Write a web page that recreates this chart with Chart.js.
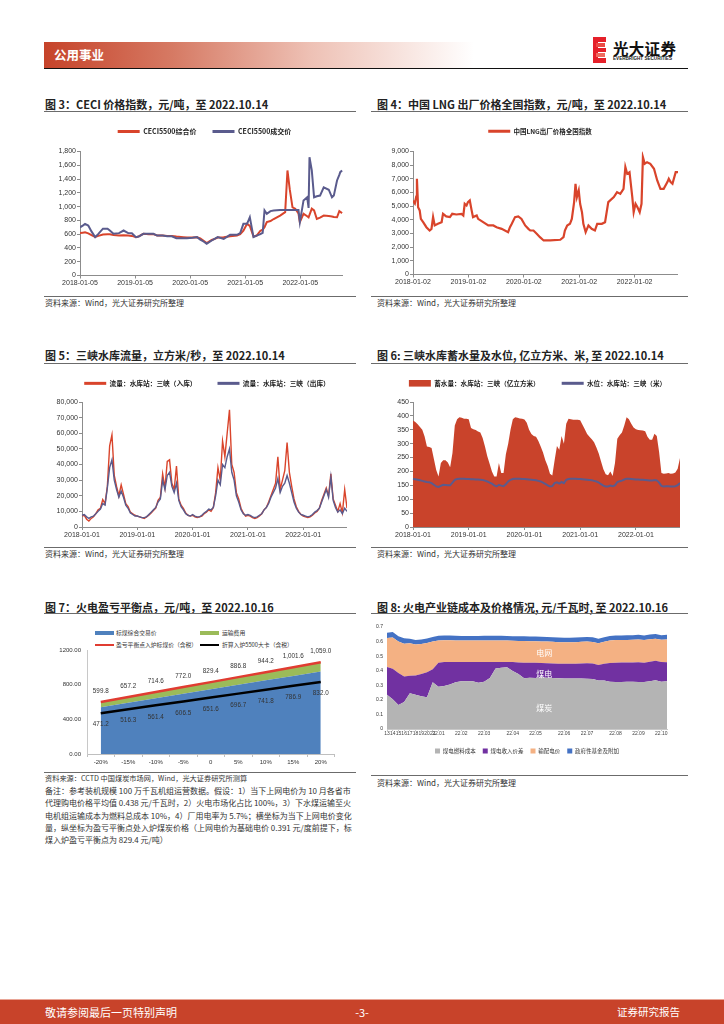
<!DOCTYPE html>
<html lang="zh-CN">
<head>
<meta charset="utf-8">
<title>公用事业</title>
<script src="https://cdn.jsdelivr.net/npm/chart.js@4.4.1/dist/chart.umd.min.js"></script>
<style>
  html, body { margin:0; padding:0; background:#fff; }
  body { position:relative; width:724px; height:1024px; overflow:hidden; font-family:"Noto Sans CJK SC", sans-serif; color:#222; }
  .t { position:absolute; font-size:11px; font-weight:bold; line-height:14px; white-space:nowrap; color:#222; }
  .rule { position:absolute; height:1px; background:#6b6b6b; }
  .src { position:absolute; font-size:8px; line-height:10px; white-space:nowrap; color:#333; }
  .note { position:absolute; left:45px; width:303px; font-size:8px; line-height:10px; white-space:nowrap; color:#333; text-align:justify; text-align-last:justify; }
  canvas { position:absolute; }
  .lg { position:absolute; font-size:5.8px; line-height:8px; white-space:nowrap; color:#333; }
  .sw { position:absolute; }
</style>
</head>
<body>
<!-- header -->
<div style="position:absolute;left:44px;top:42px;width:430px;height:26px;background:linear-gradient(90deg,#c6432a 0%,#d67a64 30%,#eec1b5 62%,#ffffff 100%);"></div>
<div style="position:absolute;left:54px;top:46.5px;font-size:12.5px;line-height:16px;color:#fff;font-weight:bold;">公用事业</div>
<div style="position:absolute;left:44px;top:67.5px;width:644px;height:1.5px;background:#111;"></div>
<div style="position:absolute;left:593px;top:37px;width:5px;height:26px;background:#e5202a;"></div>
<div style="position:absolute;left:593px;top:37px;width:13px;height:5px;background:#e5202a;"></div>
<div style="position:absolute;left:596px;top:43px;width:9px;height:4px;background:#ec4a45;"></div>
<div style="position:absolute;left:593px;top:48px;width:13px;height:4px;background:#e5202a;"></div>
<div style="position:absolute;left:596px;top:53px;width:9px;height:4px;background:#f06a5f;"></div>
<div style="position:absolute;left:593px;top:58px;width:13px;height:5px;background:#e5202a;"></div>
<div style="position:absolute;left:613px;top:39px;font-size:15.5px;line-height:18px;font-weight:bold;color:#111;letter-spacing:0.3px;">光大证券</div>
<div style="position:absolute;left:613px;top:56px;font-size:4.6px;line-height:6px;font-weight:bold;color:#222;font-family:'Liberation Sans',sans-serif;">EVERBRIGHT SECURITIES</div>

<!-- titles -->
<div class="t" style="left:45px;top:97.3px">图 3：CECI 价格指数，元/吨，至 2022.10.14</div>
<div class="t" style="left:377px;top:97.3px">图 4：中国 LNG 出厂价格全国指数，元/吨，至 2022.10.14</div>
<div class="t" style="left:45px;top:348px">图 5：三峡水库流量，立方米/秒，至 2022.10.14</div>
<div class="t" style="left:377px;top:348px">图 6: 三峡水库蓄水量及水位, 亿立方米、米, 至 2022.10.14</div>
<div class="t" style="left:45px;top:600px">图 7：火电盈亏平衡点，元/吨，至 2022.10.16</div>
<div class="t" style="left:377px;top:600px">图 8: 火电产业链成本及价格情况, 元/千瓦时, 至 2022.10.16</div>

<div class="rule" style="left:44px;top:110.5px;width:312px"></div>
<div class="rule" style="left:371px;top:110.5px;width:317px"></div>
<div class="rule" style="left:44px;top:362.5px;width:312px"></div>
<div class="rule" style="left:371px;top:362.5px;width:317px"></div>
<div class="rule" style="left:44px;top:613px;width:312px"></div>
<div class="rule" style="left:371px;top:613px;width:317px"></div>

<div class="rule" style="left:44px;top:295.5px;width:312px"></div>
<div class="rule" style="left:371px;top:295.5px;width:317px"></div>
<div class="rule" style="left:44px;top:546.5px;width:312px"></div>
<div class="rule" style="left:371px;top:546.5px;width:317px"></div>
<div class="rule" style="left:44px;top:772px;width:312px"></div>
<div class="rule" style="left:371px;top:775px;width:317px"></div>

<div class="src" style="left:45px;top:298.3px">资料来源：Wind，光大证券研究所整理</div>
<div class="src" style="left:377px;top:298.3px">资料来源：Wind，光大证券研究所整理</div>
<div class="src" style="left:45px;top:549px">资料来源：Wind，光大证券研究所整理</div>
<div class="src" style="left:377px;top:549px">资料来源：Wind，光大证券研究所整理</div>
<div class="src" style="left:377px;top:778px">资料来源：Wind，光大证券研究所整理</div>

<div class="src" style="left:45px;top:773.3px;font-size:7.2px">资料来源：CCTD 中国煤炭市场网，Wind，光大证券研究所测算</div>
<div class="note" style="top:785.7px">备注：参考装机规模 100 万千瓦机组运营数据。假设：1）当下上网电价为 10 月各省市</div>
<div class="note" style="top:798.3px">代理购电价格平均值 0.438 元/千瓦时，2）火电市场化占比 100%，3）下水煤运输至火</div>
<div class="note" style="top:810.7px">电机组运输成本为燃料总成本 10%，4）厂用电率为 5.7%；横坐标为当下上网电价变化</div>
<div class="note" style="top:822.7px">量，纵坐标为盈亏平衡点处入炉煤炭价格（上网电价为基础电价 0.391 元/度前提下，标</div>
<div class="note" style="top:835px;text-align-last:left">煤入炉盈亏平衡点为 829.4 元/吨）</div>

<!-- chart 7 legend -->
<div class="sw" style="left:95px;top:631.3px;width:19px;height:4px;background:#4f81bd"></div>
<div class="lg" id="lg7a" style="left:116px;top:629.3px"></div>
<div class="sw" style="left:200px;top:631.3px;width:19px;height:4px;background:#9bbb59"></div>
<div class="lg" id="lg7b" style="left:222px;top:629.3px"></div>
<div class="sw" style="left:95px;top:644px;width:19px;height:2px;background:#e03c31"></div>
<div class="lg" id="lg7c" style="left:116px;top:641px"></div>
<div class="sw" style="left:200px;top:644px;width:19px;height:2px;background:#000"></div>
<div class="lg" id="lg7d" style="left:222px;top:641px"></div>

<!-- canvases -->
<canvas id="c3" width="299" height="183" style="left:44px;top:111.5px"></canvas>
<canvas id="c4" width="308" height="183" style="left:370px;top:111.5px"></canvas>
<canvas id="c5" width="303" height="187" style="left:44px;top:359px"></canvas>
<canvas id="c6" width="310" height="188" style="left:370px;top:358px"></canvas>
<canvas id="c7" width="312" height="128" style="left:44px;top:640px"></canvas>
<canvas id="c8" width="318" height="140" style="left:370px;top:618px"></canvas>

<!-- footer -->
<div style="position:absolute;left:0;top:999px;width:724px;height:1px;background:#e9a596;"></div>
<div style="position:absolute;left:0;top:1000px;width:724px;height:24px;background:#c8432a;"></div>
<div style="position:absolute;left:45px;top:1005px;font-size:11px;line-height:14px;color:#fff;">敬请参阅最后一页特别声明</div>
<div style="position:absolute;left:352px;top:1005px;width:20px;text-align:center;font-size:11px;line-height:14px;color:#fff;">-3-</div>
<div style="position:absolute;left:617px;top:1005px;font-size:10.5px;line-height:14px;color:#fff;">证券研究报告</div>

<script>
// ---------------- DATA ----------------
// Fig 3: CECI (months since 2018-01-05)
const ceciSeries = ['CECI5500综合价', 'CECI5500成交价'];
const ceciTickMonths = [0, 12, 24, 36, 48];
const ceciTickLabels = ['2018-01-05', '2019-01-05', '2020-01-05', '2021-01-05', '2022-01-05'];
const ceciMonth = [0,0.6,1.1,1.8,2.5,3.3,4,5,6,6.5,7.3,8.5,9.5,10.5,11.3,12.2,12.8,13.8,15,16,16.8,18,19,20,21,22.5,23.3,24.5,25.5,26.2,27,27.6,28.7,29.5,30,31.3,32.7,34.2,34.9,35.6,36.4,37,37.8,38.5,39.3,39.8,40.2,40.7,41.5,42.2,43.6,44.7,45.2,45.7,46.3,46.9,47.6,47.9,48.7,49.5,49.8,50,50.5,51,51.6,52.3,53.1,54.2,54.9,55.3,56,56.5,56.7,57.1];
const ceciComposite = [615,622,628,612,585,560,575,595,600,598,588,580,585,582,575,557,568,605,600,600,580,580,575,575,565,555,550,550,555,540,500,470,515,535,550,555,570,580,600,650,750,720,566,580,650,665,700,775,790,820,870,920,1525,1250,990,970,900,775,895,860,845,880,970,945,820,840,870,862,857,850,845,935,925,905];
const ceciTrade = [700,725,750,726,640,557,605,680,680,653,605,615,653,615,612,557,566,605,605,605,580,580,570,570,542,542,542,548,557,520,490,460,508,540,557,530,590,590,615,750,750,847,557,580,600,620,945,895,935,945,950,950,950,950,950,950,950,775,1090,1135,980,1718,1525,1135,1150,1160,1280,1245,1135,1160,1380,1460,1500,1525];

// Fig 4: LNG index (months since 2018-01-02)
const lngSeries = ['中国LNG出厂价格全国指数'];
const lngTickMonths = [0, 12, 24, 36, 48];
const lngTickLabels = ['2018-01-02', '2019-01-02', '2020-01-02', '2021-01-02', '2022-01-02'];
const lngMonth = [0,0.4,0.7,0.85,1.0,1.1,1.45,1.7,2.2,2.9,3.6,4.0,4.35,4.7,5.4,6.2,6.5,7.2,8.0,8.5,9.4,10.5,10.9,11.2,11.6,11.9,12.3,12.7,13.0,13.8,14.1,15.2,16.3,17.4,18.1,19.2,20.6,21.0,21.4,22.1,22.8,23.5,24.3,25.0,25.4,26.1,26.8,27.5,28.3,29.7,31.9,32.6,32.9,33.4,34.0,34.4,34.9,35.2,35.5,35.9,36.2,36.6,36.9,37.4,38.0,38.7,39.4,39.9,40.9,41.6,42.3,43.5,44.2,44.9,45.6,46.0,46.4,46.9,47.5,47.8,48.2,48.6,49.1,49.5,49.8,50.2,50.7,51.4,52.2,52.9,53.6,54.3,55.1,55.4,55.8,56.2,56.9,57.4];
const lngIndex = [5400,5200,5700,7000,5800,4930,4690,4070,3830,3460,3220,3340,4200,3590,3710,3830,4440,4250,4200,4440,4390,4440,4320,5170,5050,5300,5420,4690,4200,4320,4070,3830,3590,3590,3460,3340,3100,3460,3710,4200,4250,4070,3590,3340,3220,3220,2980,2730,2490,2490,2540,2730,3220,3590,3710,4070,5300,6640,5660,6150,5170,4560,3710,3100,3590,3340,3220,3710,3710,3830,5300,5660,6030,5900,6270,7860,7370,7490,5660,4560,5170,4930,4560,5170,8590,8100,8220,8100,7740,6880,6270,6270,6760,7000,6760,6640,7490,7490];

// Half-month date grid 2018-01-01 .. 2022-10-16 (Fig 5 / Fig 6)
const flowDates = [];
for (let y = 2018; y <= 2022; y++) {
  for (let mo = 1; mo <= 12; mo++) {
    if (y === 2022 && mo > 10) break;
    for (const d of ['01', '16']) flowDates.push(y + '-' + String(mo).padStart(2, '0') + '-' + d);
  }
}
const yearTickLabels = ['2018-01-01', '2019-01-01', '2020-01-01', '2021-01-01', '2022-01-01'];

// Fig 5: Three Gorges flow, m3/s
const flowSeries = ['流量：水库站：三峡（入库）', '流量：水库站：三峡（出库）'];
const inflow = [
  7000,7500,5000,3800,5500,6500,8500,11000,12000,17500,15000,26000,52000,59000,33000,26000,20000,27000,21000,15000,13000,9500,8500,7500,
  7000,6500,6000,5500,6500,7500,9000,10500,12000,17000,19000,34000,25000,42000,43000,28000,24000,39000,18000,14000,12000,9000,7500,7000,
  7500,6500,6000,6500,7000,8500,9500,11000,10000,12500,22000,38000,30000,55000,45000,60000,75000,40000,35000,22000,18000,12000,9000,7000,
  7500,7000,6000,5500,6000,7000,8500,11000,12500,16000,20000,24000,28000,45000,24000,30000,36000,54000,35000,26000,18000,13000,10000,8000,
  7000,6500,6000,6500,7500,9000,10000,12000,17000,21000,25000,20000,34000,18000,14000,10000,15000,9000,24000,12000];
const outflow = [
  7500,8000,6500,5500,6500,7000,8500,10000,11500,15000,14000,25000,38000,43000,30000,24000,19000,23000,19000,14000,12000,9000,8000,7000,
  7000,6500,6000,6000,6500,8000,9500,11000,12500,16000,18000,30000,24000,33000,35000,26000,22000,28000,17000,13000,11000,8500,7500,7000,
  8000,7000,6500,6500,7500,9000,10000,11500,11000,12500,20000,30000,27000,40000,38000,45000,50000,35000,30000,20000,16000,11000,8500,7500,
  8000,7500,6500,6000,6500,7500,8500,11000,12500,15000,19000,22000,25000,31000,22000,26000,28000,33000,28000,22000,16000,12000,9500,8000,
  7500,7000,6500,7000,8000,9500,10500,12000,16000,20000,24000,19000,32000,17000,12500,9500,11000,8500,12000,10000];

// Fig 6: storage (亿立方米) and water level (米)
const reservoirSeries = ['蓄水量：水库站：三峡（亿立方米）', '水位：水库站：三峡（米）'];
const storage = [
  383,378,370,360,350,326,290,288,284,245,205,182,230,240,240,232,215,266,365,388,395,393,390,390,
  388,356,352,349,344,340,320,290,255,228,200,182,182,230,194,194,262,300,350,388,395,393,391,390,
  387,375,350,335,328,325,310,290,268,240,220,192,185,240,292,278,328,300,372,390,388,386,386,386,
  384,368,352,335,325,316,305,286,265,236,208,190,186,200,184,230,318,330,340,365,395,388,372,358,
  352,349,348,347,345,325,314,314,336,328,270,194,192,193,194,192,193,196,210,248];
const waterLevel = [
  173,172,170,168,166,164,162,161,158,152,146,144,148,152,151,150,150,160,170,173,174,174,174,173,
  173,172,172,171,171,170,169,167,164,160,156,150,146,152,149,147,154,164,170,173,174,174,174,173,
  173,172,171,170,169,168,166,164,160,155,150,146,147,158,161,156,162,158,170,173,174,174,174,173,
  173,172,171,170,169,168,166,164,160,154,149,146,146,149,147,150,162,165,167,171,174,174,173,172,
  171,171,170,170,169,168,167,167,169,168,160,148,146,147,147,146,146,147,151,158];

// Fig 7: break-even (元/吨)
const breakEvenCategories = ['-20%','-15%','-10%','-5%','0','5%','10%','15%','20%'];
const breakEvenSeries = ['标煤综合交易价', '运输费用', '盈亏平衡点入炉标煤价（含税）', '折算入炉5500大卡（含税）'];
const coalTradePrice = [539.8,591.5,643.1,694.8,746.5,798.1,849.8,901.4,953.1];
const transportCost = [60.0,65.7,71.5,77.2,82.9,88.7,94.4,100.2,105.9];
const breakEvenPrice = [599.8,657.2,714.6,772.0,829.4,886.8,944.2,1001.6,1059.0];
const converted5500 = [471.2,516.3,561.4,606.5,651.6,696.7,741.8,786.9,832.0];

// Fig 8: cost chain (元/千瓦时)
const costCategories = ['13','14','15','16','17','18','19','20','21',
  '22.01','22.01','22.01','22.01','22.02','22.02','22.02','22.02','22.03','22.03','22.03','22.03','22.03',
  '22.04','22.04','22.04','22.04','22.05','22.05','22.05','22.05','22.05','22.06','22.06','22.06','22.06',
  '22.07','22.07','22.07','22.07','22.07','22.08','22.08','22.08','22.08','22.09','22.09','22.09','22.09','22.10','22.10'];
const costSeries = ['煤电燃料成本', '煤电收入价差', '输配电价', '政府性基金及附加'];
const costCoal = [0.235,0.205,0.165,0.185,0.245,0.235,0.225,0.218,0.320,0.290,
  0.295,0.305,0.320,0.328,0.328,0.328,0.318,0.325,0.350,0.415,
  0.420,0.423,0.398,0.378,0.348,0.352,0.350,0.355,0.352,0.350,
  0.348,0.347,0.347,0.347,0.346,0.345,0.343,0.333,0.333,0.325,
  0.322,0.322,0.324,0.325,0.322,0.323,0.328,0.335,0.325,0.327];
const costSpread = [0.191,0.209,0.220,0.175,0.120,0.133,0.153,0.172,0.090,0.165,
  0.165,0.155,0.140,0.132,0.132,0.132,0.142,0.135,0.110,0.045,
  0.040,0.037,0.062,0.078,0.107,0.103,0.104,0.098,0.100,0.100,
  0.100,0.100,0.100,0.101,0.104,0.107,0.107,0.107,0.114,0.128,
  0.133,0.134,0.132,0.132,0.136,0.132,0.134,0.133,0.135,0.131];
const costGrid = [0.199,0.214,0.215,0.225,0.223,0.212,0.205,0.200,0.190,0.153,
  0.149,0.149,0.148,0.147,0.147,0.147,0.147,0.148,0.148,0.148,
  0.148,0.147,0.145,0.148,0.149,0.148,0.148,0.148,0.148,0.148,
  0.148,0.148,0.148,0.148,0.148,0.148,0.147,0.148,0.151,0.154,
  0.155,0.154,0.155,0.155,0.156,0.155,0.154,0.152,0.152,0.156];
const costFund = [0.036,0.037,0.036,0.037,0.032,0.031,0.032,0.031,0.032,0.032,
  0.032,0.032,0.032,0.032,0.032,0.032,0.032,0.032,0.032,0.032,
  0.032,0.032,0.032,0.032,0.032,0.032,0.032,0.032,0.032,0.032,
  0.032,0.032,0.032,0.032,0.032,0.032,0.032,0.032,0.032,0.032,
  0.032,0.032,0.032,0.032,0.032,0.032,0.032,0.032,0.032,0.032];
const costAreaLabels = [
  { text: '电网', at: 27.5, level: 0.525 },
  { text: '煤电', at: 27.5, level: 0.378 },
  { text: '煤炭', at: 27.5, level: 0.145 }
];

// ---------------- HELPERS ----------------
const FONT_NUM = '"Liberation Sans", "Noto Sans CJK SC", sans-serif';
const FONT_CJK = '"Noto Sans CJK SC", sans-serif';
const RED = '#d9442b', SLATE = '#5a5b8d', AREA_RED = '#c9432b', AXIS = '#8c8c8c';
const legendHeights = {};
const legendCenters = {};   // page x of legend centre

Chart.register({
  id: 'fixLegendBox',
  afterInit(chart) {
    const h = legendHeights[chart.canvas.id];
    const lg = chart.legend;
    if (h == null || !lg) return;
    const fit = lg.fit;
    lg.fit = function () { fit.call(this); if (this.options.display) this.height = h; };
  },
  afterLayout(chart) {
    const c = legendCenters[chart.canvas.id];
    const lg = chart.legend;
    if (c == null || !lg) return;
    const rel = c - chart.canvas.offsetLeft;
    lg.left = rel - 600; lg.right = rel + 600; lg.width = 1200;
  }
});

const fmtThousands = v => Number(v).toLocaleString('en-US');

function legendCfg(pad, fs) {
  return {
    display: true, position: 'top',
    labels: {
      usePointStyle: true, pointStyleWidth: 22, boxHeight: 8, padding: pad,
      color: '#222', font: { family: FONT_CJK, size: fs, weight: 'bold' },
      generateLabels: chart => chart.data.datasets.map((ds, i) => ({
        text: ds.label, datasetIndex: i, hidden: false,
        pointStyle: ds.fill ? 'rect' : 'line',
        fillStyle: ds.fill ? ds.backgroundColor : 'rgba(0,0,0,0)',
        strokeStyle: ds.borderColor, lineWidth: ds.fill ? 0 : 3, fontColor: '#222'
      })),
      sort: (a, b) => a.datasetIndex - b.datasetIndex
    }
  };
}

function yAxis(o) {
  return {
    min: 0, max: o.max,
    ticks: { stepSize: o.step, color: '#333', font: { family: FONT_NUM, size: o.fs || 7 }, padding: o.pad != null ? o.pad : 1, callback: o.fmt },
    grid: { display: true, drawOnChartArea: false, drawTicks: o.tl !== 0, tickLength: o.tl != null ? o.tl : 3, color: o.gc || AXIS },
    border: { display: o.border !== false, color: o.gc || AXIS, width: 1 },
    afterFit: s => { s.width = o.w; }
  };
}

function xMonths(max, tickMonths, tickLabels, h) {
  return {
    type: 'linear', min: 0, max: max,
    afterBuildTicks: s => { s.ticks = tickMonths.map(v => ({ value: v })); },
    ticks: { autoSkip: false, maxRotation: 0, color: '#333', font: { family: FONT_NUM, size: 7 }, padding: 0.5,
      callback: v => tickLabels[tickMonths.indexOf(v)] },
    grid: { drawOnChartArea: false, tickLength: 3, color: AXIS },
    border: { color: AXIS },
    afterFit: s => { s.height = h; }
  };
}

function xDates(labels, keep, h) {
  return {
    type: 'category',
    afterBuildTicks: s => { s.ticks = s.ticks.filter(t => keep.includes(labels[t.value])); },
    ticks: { autoSkip: false, maxRotation: 0, color: '#333', font: { family: FONT_NUM, size: 7 }, padding: 0.5 },
    grid: { drawOnChartArea: false, tickLength: 3, color: AXIS },
    border: { color: AXIS },
    afterFit: s => { s.height = h; }
  };
}

const base = { responsive: false, animation: false, events: [] };

// ---------------- FIG 3 ----------------
legendHeights.c3 = 39.5; legendCenters.c3 = 204.5;
new Chart(document.getElementById('c3'), {
  type: 'line',
  data: { datasets: [
    { label: ceciSeries[0], data: ceciMonth.map((m, i) => ({ x: m, y: ceciComposite[i] })), borderColor: RED, backgroundColor: RED, borderWidth: 2, pointRadius: 0, tension: 0, fill: false, order: 1 },
    { label: ceciSeries[1], data: ceciMonth.map((m, i) => ({ x: m, y: ceciTrade[i] })), borderColor: SLATE, backgroundColor: SLATE, borderWidth: 2, pointRadius: 0, tension: 0, fill: false, order: 0 }
  ] },
  options: Object.assign({}, base, {
    layout: { padding: 0 },
    plugins: { legend: legendCfg(16, 7), tooltip: { enabled: false } },
    scales: {
      x: xMonths(57.3, ceciTickMonths, ceciTickLabels, 19.5),
      y: yAxis({ max: 1800, step: 200, w: 36, fmt: fmtThousands })
    }
  })
});

// ---------------- FIG 4 ----------------
legendHeights.c4 = 39.5; legendCenters.c4 = 540;
new Chart(document.getElementById('c4'), {
  type: 'line',
  data: { datasets: [
    { label: lngSeries[0], data: lngMonth.map((m, i) => ({ x: m, y: lngIndex[i] })), borderColor: RED, backgroundColor: RED, borderWidth: 2.2, pointRadius: 0, tension: 0, fill: false }
  ] },
  options: Object.assign({}, base, {
    layout: { padding: 0 },
    plugins: { legend: legendCfg(16, 6.5), tooltip: { enabled: false } },
    scales: {
      x: xMonths(57.4, lngTickMonths, lngTickLabels, 20.5),
      y: yAxis({ max: 9000, step: 1000, w: 43, fmt: fmtThousands })
    }
  })
});

// ---------------- FIG 5 ----------------
legendHeights.c5 = 43; legendCenters.c5 = 207;
new Chart(document.getElementById('c5'), {
  type: 'line',
  data: { labels: flowDates, datasets: [
    { label: flowSeries[0], data: inflow, borderColor: RED, backgroundColor: RED, borderWidth: 1.4, pointRadius: 0, tension: 0, fill: false, order: 1 },
    { label: flowSeries[1], data: outflow, borderColor: SLATE, backgroundColor: SLATE, borderWidth: 1.4, pointRadius: 0, tension: 0, fill: false, order: 0 }
  ] },
  options: Object.assign({}, base, {
    layout: { padding: 0 },
    plugins: { legend: legendCfg(21, 6.7), tooltip: { enabled: false } },
    scales: {
      x: xDates(flowDates, yearTickLabels, 19),
      y: yAxis({ max: 80000, step: 10000, w: 38, fmt: fmtThousands })
    }
  })
});

// ---------------- FIG 6 ----------------
legendHeights.c6 = 44; legendCenters.c6 = 537.5;
new Chart(document.getElementById('c6'), {
  type: 'line',
  data: { labels: flowDates, datasets: [
    { label: reservoirSeries[0], data: storage, borderColor: AREA_RED, backgroundColor: AREA_RED, borderWidth: 0, pointRadius: 0, tension: 0, fill: 'origin', order: 1 },
    { label: reservoirSeries[1], data: waterLevel, borderColor: SLATE, backgroundColor: SLATE, borderWidth: 2, pointRadius: 0, tension: 0, fill: false, order: 0 }
  ] },
  options: Object.assign({}, base, {
    layout: { padding: 0 },
    plugins: { legend: legendCfg(22, 6.6), tooltip: { enabled: false } },
    scales: {
      x: xDates(flowDates, yearTickLabels, 19),
      y: yAxis({ max: 450, step: 50, w: 43 })
    }
  })
});

// ---------------- FIG 7 ----------------
['lg7a', 'lg7b', 'lg7c', 'lg7d'].forEach((id, i) => { document.getElementById(id).textContent = breakEvenSeries[i]; });
const fmtLabel = v => Number(v).toLocaleString('en-US', { minimumFractionDigits: 1, maximumFractionDigits: 1 });
const lineValueLabels = {
  id: 'lineValueLabels',
  afterDatasetsDraw(chart) {
    const ctx = chart.ctx;
    ctx.save();
    ctx.font = '6.3px ' + FONT_NUM;
    ctx.fillStyle = '#333';
    ctx.textAlign = 'center';
    ctx.textBaseline = 'middle';
    [[2, -10.5], [3, 11.5]].forEach(([di, dy]) => {
      const meta = chart.getDatasetMeta(di);
      meta.data.forEach((pt, i) => {
        ctx.fillText(fmtLabel(chart.data.datasets[di].data[i]), pt.x, pt.y + dy);
      });
    });
    ctx.restore();
  }
};
new Chart(document.getElementById('c7'), {
  type: 'line',
  data: { labels: breakEvenCategories, datasets: [
    { label: breakEvenSeries[0], data: coalTradePrice, backgroundColor: '#4f81bd', borderColor: '#4f81bd', borderWidth: 0, pointRadius: 0, fill: 'origin', stack: 'area', order: 1 },
    { label: breakEvenSeries[1], data: transportCost, backgroundColor: '#9bbb59', borderColor: '#9bbb59', borderWidth: 0, pointRadius: 0, fill: '-1', stack: 'area', order: 1 },
    { label: breakEvenSeries[2], data: breakEvenPrice, borderColor: '#e03c31', backgroundColor: '#e03c31', borderWidth: 2.5, pointRadius: 0, fill: false, stack: 'red', order: 0 },
    { label: breakEvenSeries[3], data: converted5500, borderColor: '#000', backgroundColor: '#000', borderWidth: 2.5, pointRadius: 0, fill: false, stack: 'black', order: 0 }
  ] },
  options: Object.assign({}, base, {
    layout: { padding: { left: 0, right: 21.5, top: 10, bottom: 0 } },
    plugins: { legend: { display: false }, tooltip: { enabled: false } },
    scales: {
      x: {
        type: 'category', offset: true,
        ticks: { color: '#333', font: { family: FONT_NUM, size: 6 }, padding: 2, maxRotation: 0, autoSkip: false },
        grid: { drawOnChartArea: false, tickLength: 3, color: '#bfbfbf', offset: true },
        border: { color: '#bfbfbf' },
        afterFit: s => { s.height = 14; }
      },
      y: Object.assign(yAxis({ max: 1200, step: 400, w: 43, fs: 6, pad: 6, tl: 0, gc: '#c8c8c8', fmt: v => Number(v).toFixed(2) }), { stacked: true })
    }
  }),
  plugins: [lineValueLabels]
});

// ---------------- FIG 8 ----------------
legendHeights.c8 = 16;
const areaText = {
  id: 'areaText',
  afterDatasetsDraw(chart) {
    const { ctx, scales } = chart;
    ctx.save();
    ctx.fillStyle = '#ffffff';
    ctx.font = '8px ' + FONT_CJK;
    ctx.textAlign = 'center';
    ctx.textBaseline = 'middle';
    costAreaLabels.forEach(l => ctx.fillText(l.text, scales.x.getPixelForValue(l.at), scales.y.getPixelForValue(l.level)));
    ctx.restore();
  }
};
const costColors = ['#b4b4b4', '#7131a1', '#f4b183', '#4472c4'];
new Chart(document.getElementById('c8'), {
  type: 'line',
  data: { labels: costCategories, datasets: [costCoal, costSpread, costGrid, costFund].map((arr, i) => ({
    label: costSeries[i], data: arr, backgroundColor: costColors[i], borderColor: costColors[i],
    borderWidth: 0, pointRadius: 0, tension: 0, fill: i === 0 ? 'origin' : '-1'
  })) },
  options: Object.assign({}, base, {
    layout: { padding: { left: 0, right: 21, top: 9, bottom: 0.75 } },
    plugins: {
      legend: {
        display: true, position: 'bottom', fullSize: false,
        labels: { boxWidth: 5, boxHeight: 5, padding: 7, color: '#333', font: { family: FONT_CJK, size: 5.5 },
          generateLabels: chart => chart.data.datasets.map((ds, i) => ({ text: ds.label, datasetIndex: i, hidden: false, fillStyle: ds.backgroundColor, strokeStyle: ds.backgroundColor, lineWidth: 0, fontColor: '#333' })) }
      },
      tooltip: { enabled: false }
    },
    scales: {
      x: {
        type: 'category',
        afterBuildTicks: s => { s.ticks = s.ticks.filter(t => t.value === 0 || costCategories[t.value] !== costCategories[t.value - 1]); },
        ticks: { autoSkip: false, maxRotation: 0, color: '#444', font: { family: FONT_NUM, size: 5 }, padding: 0 },
        grid: { drawOnChartArea: false, tickLength: 2, color: '#c8c8c8' },
        border: { color: '#c8c8c8' },
        afterFit: s => { s.height = 12.25; }
      },
      y: Object.assign(yAxis({ max: 0.7, step: 0.1, w: 17, fs: 5, pad: 4, tl: 0, border: false, gc: '#c8c8c8',
        fmt: v => (Math.round(v * 10) / 10).toString() }), { stacked: true })
    }
  }),
  plugins: [areaText]
});
</script>
</body>
</html>
